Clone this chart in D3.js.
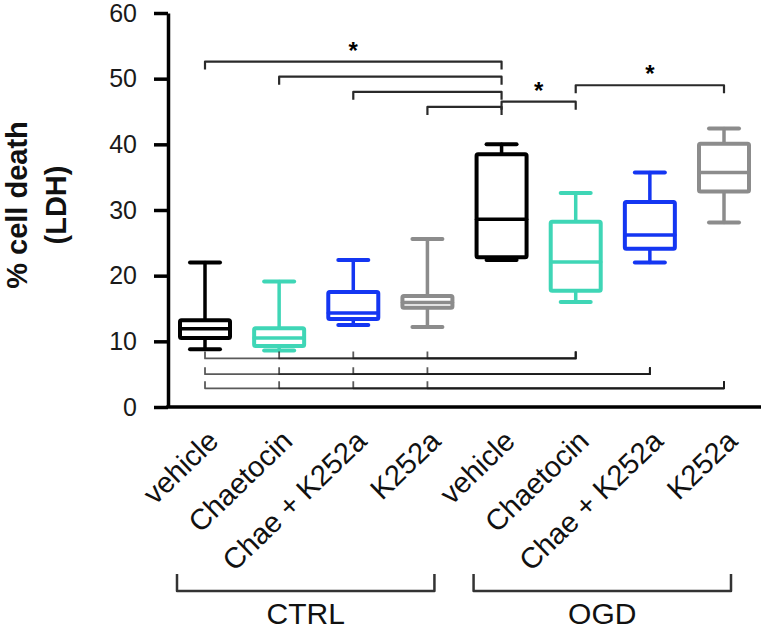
<!DOCTYPE html>
<html>
<head>
<meta charset="utf-8">
<script src="https://cdn.jsdelivr.net/npm/d3@7"></script>
<style>
  html, body { margin: 0; padding: 0; background: #fff; }
  svg { display: block; font-family: "Liberation Sans", Arial, Helvetica, sans-serif; }
</style>
</head>
<body>
<svg id="chart" width="761" height="636"></svg>
<script>
// ---- data ----
const categories = ["vehicle", "Chaetocin", "Chae + K252a", "K252a", "vehicle", "Chaetocin", "Chae + K252a", "K252a"];
const groups = ["CTRL", "CTRL", "CTRL", "CTRL", "OGD", "OGD", "OGD", "OGD"];
const groupNames = ["CTRL", "OGD"];
const whiskerLow  = [8.8, 8.6, 12.5, 12.2, 22.4, 16.0, 22.0, 28.1];
const q1          = [10.5, 9.3, 13.4, 15.1, 22.8, 17.7, 24.1, 32.8];
const median      = [11.9, 10.5, 14.3, 15.9, 28.6, 22.1, 26.2, 35.7];
const q3          = [13.2, 12.0, 17.5, 16.9, 38.5, 28.2, 31.2, 40.1];
const whiskerHigh = [22.0, 19.1, 22.4, 25.6, 40.0, 32.6, 35.7, 42.4];
const colors = ["#000000", "#3fd6b6", "#1436f2", "#8c8c8c", "#000000", "#3fd6b6", "#1436f2", "#8c8c8c"];
const yTicks = [0, 10, 20, 30, 40, 50, 60];
// significance comparisons above the boxes: [from index, to index, level (y units), star]
const topComparisons = [
  [0, 4, 52.6, true],
  [1, 4, 50.3, false],
  [2, 4, 48.0, false],
  [3, 4, 45.7, false],
  [4, 5, 46.5, true],
  [5, 7, 49.0, true]
];
// comparisons below the boxes: [from index, to index, level]
const bottomComparisons = [
  [0, 5, 7.4], [1, 5, 7.4], [2, 5, 7.4], [3, 5, 7.4],
  [0, 6, 5.0], [1, 6, 5.0], [2, 6, 5.0], [3, 6, 5.0],
  [0, 7, 2.85], [1, 7, 2.85], [2, 7, 2.85], [3, 7, 2.85]
];

// ---- layout ----
const svg = d3.select("#chart");
const axisX = 168;
const idx = d3.range(categories.length);
const x = d3.scalePoint().domain(idx).range([205, 724]);
const y = d3.scaleLinear().domain([0, 60]).range([407, 13]);
const boxW = 50, capW = 30;

// y axis
const yAxis = svg.append("g")
  .attr("transform", `translate(${axisX},0)`)
  .call(d3.axisLeft(y).tickValues(yTicks).tickSize(14).tickSizeOuter(0).tickPadding(17));
yAxis.select(".domain").attr("stroke", "#000").attr("stroke-width", 3.5);
yAxis.selectAll(".tick line").attr("stroke", "#000").attr("stroke-width", 3.5);
yAxis.selectAll(".tick text").attr("font-size", 25).attr("fill", "#1a1a1a").attr("font-family", "Liberation Sans, Arial, sans-serif");

// x axis baseline
svg.append("line")
  .attr("x1", axisX - 1.75).attr("x2", 761)
  .attr("y1", y(0)).attr("y2", y(0))
  .attr("stroke", "#000").attr("stroke-width", 3.5);

// y title
const yTitle = svg.append("text")
  .attr("transform", `translate(0,${(y(0) + y(60)) / 2 - 5}) rotate(-90)`)
  .attr("text-anchor", "middle")
  .attr("font-weight", "bold")
  .attr("font-size", 29)
  .attr("fill", "#111");
yTitle.append("tspan").attr("x", 0).attr("y", 27).text("% cell death");
yTitle.append("tspan").attr("x", 0).attr("y", 66).text("(LDH)");

// boxes
const box = svg.append("g").selectAll("g").data(idx).join("g")
  .attr("stroke", i => colors[i]).attr("fill", "none")
  .attr("stroke-linecap", "round").attr("stroke-linejoin", "round");
box.append("line")
  .attr("x1", i => x(i)).attr("x2", i => x(i))
  .attr("y1", i => y(whiskerHigh[i])).attr("y2", i => y(q3[i]))
  .attr("stroke-width", 3.5);
box.append("line")
  .attr("x1", i => x(i)).attr("x2", i => x(i))
  .attr("y1", i => y(q1[i])).attr("y2", i => y(whiskerLow[i]))
  .attr("stroke-width", 3.5);
box.append("line")
  .attr("x1", i => x(i) - capW / 2).attr("x2", i => x(i) + capW / 2)
  .attr("y1", i => y(whiskerHigh[i])).attr("y2", i => y(whiskerHigh[i]))
  .attr("stroke-width", 4);
box.append("line")
  .attr("x1", i => x(i) - capW / 2).attr("x2", i => x(i) + capW / 2)
  .attr("y1", i => y(whiskerLow[i])).attr("y2", i => y(whiskerLow[i]))
  .attr("stroke-width", 4);
box.append("rect")
  .attr("x", i => x(i) - boxW / 2).attr("width", boxW)
  .attr("y", i => y(q3[i])).attr("height", i => y(q1[i]) - y(q3[i]))
  .attr("fill", "#fff").attr("stroke-width", 4).attr("rx", 1.5);
box.append("line")
  .attr("x1", i => x(i) - boxW / 2).attr("x2", i => x(i) + boxW / 2)
  .attr("y1", i => y(median[i])).attr("y2", i => y(median[i]))
  .attr("stroke-width", 3.5);

// top significance brackets
const tick = 8;
const tb = svg.append("g").attr("fill", "none").attr("stroke", "#2a2a2a").attr("stroke-width", 2.2)
  .attr("stroke-linejoin", "round");
tb.selectAll("path").data(topComparisons).join("path")
  .attr("d", d => {
    const x1 = x(d[0]), x2 = x(d[1]), yy = y(d[2]);
    return `M${x1},${yy + tick} L${x1},${yy} L${x2},${yy} L${x2},${yy + tick}`;
  });
svg.append("g").selectAll("text").data(topComparisons.filter(d => d[3])).join("text")
  .attr("x", d => (x(d[0]) + x(d[1])) / 2)
  .attr("y", d => y(d[2]) - 3)
  .attr("text-anchor", "middle")
  .attr("font-size", 24).attr("font-weight", "bold").attr("fill", "#000")
  .text("*");

// bottom significance brackets
const bb = svg.append("g").attr("fill", "none").attr("stroke", "#1a1a1a").attr("stroke-width", 1.8)
  .attr("stroke-opacity", 0.72).attr("stroke-linejoin", "round");
bb.selectAll("path").data(bottomComparisons).join("path")
  .attr("d", d => {
    const x1 = x(d[0]), x2 = x(d[1]), yy = y(d[2]);
    return `M${x1},${yy - 7} L${x1},${yy} L${x2},${yy} L${x2},${yy - 7}`;
  });

// category labels
svg.append("g").selectAll("text").data(idx).join("text")
  .attr("transform", i => `translate(${x(i) + 15},443) rotate(-44)`)
  .attr("text-anchor", "end")
  .attr("font-size", 29).attr("fill", "#111")
  .text(i => categories[i]);

// group brackets and labels
const groupG = svg.append("g");
groupNames.forEach(g => {
  const members = idx.filter(i => groups[i] === g);
  const gx1 = x(members[0]) - 28, gx2 = x(members[members.length - 1]) + 7;
  groupG.append("path")
    .attr("d", `M${gx1},574 L${gx1},591 L${gx2},591 L${gx2},574`)
    .attr("fill", "none").attr("stroke", "#333").attr("stroke-width", 2.5).attr("stroke-linejoin", "round");
  groupG.append("text")
    .attr("x", (gx1 + gx2) / 2).attr("y", 624)
    .attr("text-anchor", "middle").attr("font-size", 30).attr("fill", "#111")
    .text(g);
});
</script>
</body>
</html>
